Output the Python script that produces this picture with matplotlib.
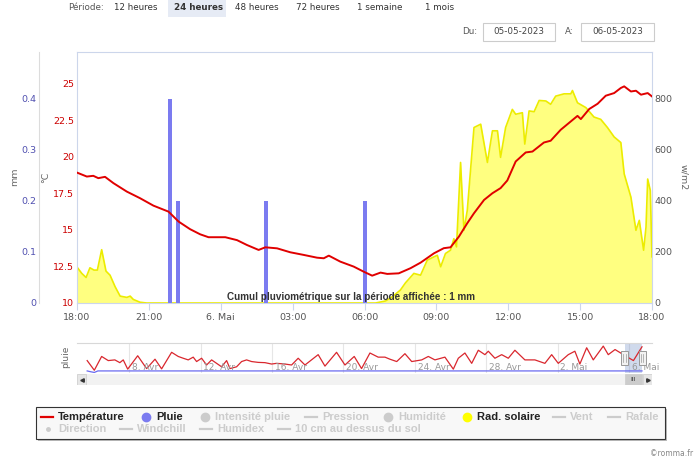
import matplotlib
matplotlib.use("Agg")
import matplotlib.pyplot as plt
from matplotlib.patches import Rectangle
from matplotlib.transforms import blended_transform_factory

# main chart, hours after 05-05-2023 18:00
temp_hours = [0.0, 0.41, 0.68, 0.89, 1.17, 1.52, 2.08, 2.63, 3.19, 3.82, 4.24, 4.72, 5.14,
              5.49, 6.19, 6.68, 7.09, 7.58, 7.86, 8.35, 8.90, 9.46, 10.02, 10.30, 10.51,
              10.99, 11.55, 11.97, 12.32, 12.67, 12.95, 13.43, 13.92, 14.34, 14.90, 15.31,
              15.59, 15.94, 16.29, 16.57, 16.99, 17.34, 17.68, 17.96, 18.31, 18.73, 19.01,
              19.49, 19.77, 20.19, 20.61, 20.89, 21.03, 21.38, 21.73, 22.07, 22.42, 22.70,
              22.84, 23.12, 23.33, 23.54, 23.82, 24.0]
temp_vals = [18.92, 18.65, 18.7, 18.54, 18.63, 18.2, 17.62, 17.17, 16.66, 16.25, 15.57, 15.05, 14.7,
             14.5, 14.5, 14.3, 13.97, 13.63, 13.81, 13.74, 13.47, 13.29, 13.1, 13.06, 13.24,
             12.83, 12.49, 12.14, 11.87, 12.08, 11.99, 12.03, 12.38, 12.76, 13.4, 13.75,
             13.81, 14.54, 15.46, 16.14, 17.05, 17.51, 17.86, 18.38, 19.68, 20.3, 20.36,
             20.98, 21.1, 21.85, 22.42, 22.8, 22.58, 23.27, 23.63, 24.18, 24.36, 24.71,
             24.82, 24.47, 24.52, 24.25, 24.36, 24.13]

solar_hours = [0.0, 0.20, 0.38, 0.54, 0.71, 0.85, 1.03, 1.21, 1.38, 1.59, 1.80, 2.08, 2.22,
               2.35, 2.63, 2.91, 12.46, 12.88, 13.17, 13.50, 13.71, 14.06, 14.34, 14.62,
               14.90, 15.04, 15.18, 15.38, 15.59, 15.73, 15.84, 16.01, 16.15, 16.29, 16.57,
               16.85, 17.13, 17.34, 17.55, 17.68, 17.89, 18.17, 18.31, 18.59, 18.69, 18.87,
               19.08, 19.29, 19.57, 19.77, 19.98, 20.33, 20.61, 20.68, 20.89, 21.24, 21.58,
               21.86, 22.14, 22.42, 22.70, 22.84, 23.12, 23.33, 23.47, 23.65, 23.75, 23.82,
               23.93, 24.0]
solar_vals = [141, 116, 100, 138, 129, 129, 209, 125, 109, 64, 27, 22, 27,
              14, 3, 0, 0, 8, 25, 51, 79, 116, 109, 168,
              181, 187, 142, 194, 207, 252, 220, 551, 285, 363, 688,
              701, 551, 675, 675, 571, 688, 759, 740, 746, 623, 753,
              750, 794, 792, 779, 811, 820, 820, 833, 785, 766, 729,
              720, 688, 651, 629, 506, 415, 285, 324, 207, 298, 486,
              441, 181]

rain_hours = [3.87, 4.20, 7.89, 12.03]
rain_vals = [0.4, 0.2, 0.2, 0.2]

x_ticks = [0, 3, 6, 9, 12, 15, 18, 21, 24]
x_labels = ["18:00", "21:00", "6. Mai", "03:00", "06:00", "09:00", "12:00", "15:00", "18:00"]
temp_ticks = [10, 12.5, 15, 17.5, 20, 22.5, 25]
rain_ticks = [0, 0.1, 0.2, 0.3, 0.4]
solar_ticks = [0, 200, 400, 600, 800]

# navigator, days after 06-05-2023 00:00
nav_days = [-30.35, -29.95, -29.54, -29.17, -28.80, -28.52, -28.33, -28.08, -27.52, -27.02,
            -26.55, -26.18, -25.62, -25.25, -24.97, -24.69, -24.41, -24.22, -23.94, -23.66,
            -23.38, -23.10, -22.82, -22.54, -22.35, -21.98, -21.70, -21.42, -21.14, -20.77,
            -20.39, -20.02, -19.74, -19.27, -18.90, -18.53, -18.15, -17.41, -17.03, -16.38,
            -15.91, -15.39, -14.98, -14.51, -14.05, -13.67, -13.39, -13.01, -12.55, -12.17,
            -11.61, -11.24, -10.87, -10.31, -9.84, -9.56, -9.19, -8.81, -8.44, -8.07,
            -7.88, -7.51, -7.13, -6.76, -6.39, -5.83, -5.27, -4.71, -4.33, -3.96,
            -3.40, -3.03, -2.75, -2.37, -2.00, -1.72, -1.44, -1.16, -0.78, -0.25,
            0.25, 0.73]
nav_temp = [12.5, 5.5, 15.5, 12.5, 13.0, 11.0, 13.0, 6.3, 16.0, 6.7,
            13.5, 6.5, 18.5, 15.5, 14.2, 13.0, 15.0, 11.8, 14.2, 9.3,
            13.0, 10.5, 8.0, 12.5, 6.7, 8.0, 11.8, 13.0, 11.8, 11.2,
            11.0, 10.0, 10.5, 10.0, 9.3, 14.2, 9.3, 16.8, 8.5, 18.5,
            9.3, 15.5, 6.7, 18.0, 15.0, 15.0, 13.5, 11.8, 17.5, 11.8,
            13.0, 15.5, 13.0, 15.0, 6.3, 14.2, 18.0, 10.5, 20.0, 16.8,
            19.3, 14.2, 16.8, 14.2, 20.0, 13.0, 13.0, 10.5, 16.8, 10.5,
            16.8, 19.3, 10.0, 21.8, 13.0, 18.0, 23.0, 16.8, 20.5, 16.3,
            12.5, 22.5]
nav_rain_days = [-30.35, -30.15, -29.95, -29.75, 0.73]
nav_rain_vals = [5.0, 4.4, 3.9, 5.0, 5.0]
nav_tick_days = [-28, -24, -20, -16, -12, -8, -4, 0]
nav_tick_labels = ["8. Avr", "12. Avr", "16. Avr", "20. Avr", "24. Avr", "28. Avr", "2. Mai", "6. Mai"]
nav_selection = [-0.25, 0.75]

periods = ["12 heures", "24 heures", "48 heures", "72 heures", "1 semaine", "1 mois"]
date_from = "05-05-2023"
date_to = "06-05-2023"
cumul_text = "Cumul pluviométrique sur la période affichée : 1 mm"

legend_labels = ["Température", "Pluie", "Intensité pluie", "Pression", "Humidité",
                 "Rad. solaire", "Vent", "Rafale", "Direction", "Windchill", "Humidex",
                 "10 cm au dessus du sol"]
legend_active = [True, True, False, False, False, True, False, False, False, False, False, False]

# ---------------------------------------------------------------- layout
W, H = 700, 462
plt.rcParams['font.family'] = ['DejaVu Sans']
fig = plt.figure(figsize=(W / 100, H / 100), dpi=100)


def fx(px):
    return px / W


def fy(py):
    return 1 - py / H


RED = '#e00000'
BLUE = '#7b7bf0'
BORDER = '#ccd6eb'
TICK_FS = 6.8

# host axes: solar radiation (right axis)
ax = fig.add_axes([fx(77), fy(303), (652 - 77) / W, (303 - 52) / H])
ax.fill_between(solar_hours, solar_vals, color='#ffff80', lw=0, zorder=1)
ax.plot(solar_hours, solar_vals, color='#ecec00', lw=1.2, zorder=2)
ax.set_xlim(0, 24)
ax.set_ylim(0, 984)
ax.set_xticks(x_ticks, x_labels)
ax.tick_params(axis='x', length=5, color=BORDER, labelsize=TICK_FS, labelcolor='#555555', pad=2)
for sp in ax.spines.values():
    sp.set_color(BORDER)
    sp.set_linewidth(0.8)

# rain axis (left, offset)
ax_r = ax.twinx()
ax_r.bar(rain_hours, rain_vals, width=0.16, color=BLUE, zorder=3)
ax_r.set_ylim(0, 0.492)
ax_r.yaxis.tick_left()
ax_r.set_yticks(rain_ticks, ["0", "0.1", "0.2", "0.3", "0.4"])
ax_r.tick_params(axis='y', length=0, labelsize=TICK_FS, labelcolor='#5050b0', pad=2)
for name, sp in ax_r.spines.items():
    sp.set_visible(name == 'left')
ax_r.spines['left'].set_position(('outward', 38 * 0.72))
ax_r.spines['left'].set_color('#dcdcdc')

# temperature axis (left)
ax_t = ax.twinx()
ax_t.plot(temp_hours, temp_vals, color=RED, lw=1.4, zorder=4)
ax_t.set_ylim(10, 27.17)
ax_t.yaxis.tick_left()
ax_t.set_yticks(temp_ticks, ["10", "12.5", "15", "17.5", "20", "22.5", "25"])
ax_t.tick_params(axis='y', length=0, labelsize=TICK_FS, labelcolor='#cc0000', pad=2)
for sp in ax_t.spines.values():
    sp.set_visible(False)
ax_t.text(0.476, 0.024, cumul_text, transform=ax_t.transAxes, ha='center', va='center',
          fontsize=7.1, fontweight='bold', family='Liberation Sans', color='#333333')

# twinx moved the host ticks to the left, put them back on the right
ax.yaxis.tick_right()
ax.set_yticks(solar_ticks)
ax.tick_params(axis='y', length=0, labelsize=TICK_FS, labelcolor='#555555', pad=2)

fig.text(fx(15), fy(177), "mm", rotation=90, ha='center', va='center', fontsize=6.8, color='#666666')
fig.text(fx(46), fy(177), "°C", rotation=90, ha='center', va='center', fontsize=6.8, color='#666666')
fig.text(fx(684), fy(177), "w/m2", rotation=270, ha='center', va='center', fontsize=6.8, color='#666666')

# navigator
ax_n = fig.add_axes([fx(77), fy(373), (652 - 77) / W, 30 / H])
ax_n.set_xlim(-30.92, 1.29)
ax_n.set_ylim(3.5, 25.25)
ax_n.set_xticks([])
ax_n.set_yticks([])
for name, sp in ax_n.spines.items():
    sp.set_visible(name == 'top')
ax_n.spines['top'].set_color('#d8d8d8')
blend_n = blended_transform_factory(ax_n.transData, ax_n.transAxes)
for d, lab in zip(nav_tick_days, nav_tick_labels):
    ax_n.axvline(d, color='#e6e6e6', lw=0.8, zorder=0)
    ax_n.annotate(lab, (d, 0), xycoords=blend_n, xytext=(2, 1), textcoords='offset points',
                  ha='left', va='bottom', fontsize=6.5, color='#999999')
ax_n.axvspan(nav_selection[0], nav_selection[1], color=(102 / 255, 133 / 255, 194 / 255, 0.3), lw=0)
ax_n.plot(nav_rain_days, nav_rain_vals, color='#6a6af0', lw=0.9)
ax_n.plot(nav_days, nav_temp, color='#d9272e', lw=0.9)
hw = 7 / 17.85
for d in nav_selection:
    ax_n.add_patch(Rectangle((d - hw / 2, 0.27), hw, 0.46, transform=blend_n, fc='#f2f2f2',
                             ec='#999999', lw=0.7, zorder=5))
    for off in (-0.06, 0.06):
        ax_n.plot([d + off, d + off], [0.38, 0.62], transform=blend_n, color='#999999', lw=0.5, zorder=6)
fig.text(fx(66), fy(357), "pluie", rotation=90, ha='center', va='center', fontsize=6.5, color='#666666')

# scrollbar
ax_s = fig.add_axes([fx(77), fy(385), (652 - 77) / W, 11 / H])
ax_s.set_xlim(-30.92, 1.29)
ax_s.set_ylim(0, 1)
ax_s.axis('off')
ax_s.add_patch(Rectangle((0, 0), 1, 1, transform=ax_s.transAxes, fc='#f2f2f2', ec='#f2f2f2', lw=0.5))
ax_s.add_patch(Rectangle((nav_selection[0], 0), nav_selection[1] - nav_selection[0], 1,
                         fc='#cccccc', ec='#cccccc', lw=0.5))
bw = 9 / 575
ax_s.add_patch(Rectangle((0, 0), bw, 1, transform=ax_s.transAxes, fc='#e6e6e6', ec='#cccccc', lw=0.5))
ax_s.add_patch(Rectangle((1 - bw, 0), bw, 1, transform=ax_s.transAxes, fc='#e6e6e6', ec='#cccccc', lw=0.5))
ax_s.plot([bw / 2], [0.5], marker='<', ms=2.5, color='#333333', transform=ax_s.transAxes)
ax_s.plot([1 - bw / 2], [0.5], marker='>', ms=2.5, color='#333333', transform=ax_s.transAxes)
ax_s.text(sum(nav_selection) / 2, 0.5, "III", ha='center', va='center', fontsize=4.5, color='#333333')

# legend box
fig.add_artist(Rectangle((fx(38), fy(441)), 629 / W, 32 / H, transform=fig.transFigure,
                         fc='#bbbbbb', ec='none'))
fig.add_artist(Rectangle((fx(36), fy(439)), 629 / W, 32 / H, transform=fig.transFigure,
                         fc='#f8f8f8', ec='#333333', lw=0.8))
legend_kind = ['line', 'circle', 'circle', 'line', 'circle', 'circle', 'line', 'line',
               'dot', 'line', 'line', 'line']
legend_color = [RED, BLUE, None, None, None, '#ffff00', None, None, None, None, None, None]
legend_x = [58, 156, 215, 322, 398, 477, 570, 625, 58, 137, 217, 295]
legend_y = [417] * 8 + [429] * 4
for lab, on, kind, col, lx, ly in zip(legend_labels, legend_active, legend_kind, legend_color,
                                      legend_x, legend_y):
    c = col if on else '#cccccc'
    tc = '#222222' if on else '#cccccc'
    if kind == 'line':
        fig.add_artist(plt.Line2D([fx(lx - 17), fx(lx - 5)], [fy(ly), fy(ly)], color=c, lw=1.6))
    elif kind == 'circle':
        fig.add_artist(plt.Line2D([fx(lx - 10)], [fy(ly)], marker='o', ms=6, color=c, mec=c))
    else:
        fig.add_artist(plt.Line2D([fx(lx - 10)], [fy(ly)], marker='o', ms=2.5, color=c, mec=c))
    fig.text(fx(lx), fy(ly), lab, ha='left', va='center', fontsize=8, fontweight='bold',
             family='Liberation Sans', color=tc)

# period selector and dates
fig.add_artist(Rectangle((fx(168), fy(17)), 58 / W, 17 / H, transform=fig.transFigure,
                         fc='#e6ebf5', ec='none'))
fig.text(fx(68), fy(8), "Période:", ha='left', va='center', fontsize=6.3, color='#555555')
for lab, cx in zip(periods, [135.5, 199, 257, 318, 379.5, 439.5]):
    fig.text(fx(cx), fy(8), lab, ha='center', va='center', fontsize=6.3, color='#333333',
             fontweight='bold' if lab == "24 heures" else 'normal')
fig.text(fx(470), fy(32), "Du:", ha='center', va='center', fontsize=6.3, color='#555555')
fig.text(fx(569), fy(32), "A:", ha='center', va='center', fontsize=6.3, color='#555555')
for lab, x0, x1 in [(date_from, 483, 555), (date_to, 581, 654)]:
    fig.add_artist(Rectangle((fx(x0), fy(41)), (x1 - x0) / W, 18 / H, transform=fig.transFigure,
                             fc='white', ec='#cccccc', lw=0.8))
    fig.text(fx((x0 + x1) / 2), fy(32), lab, ha='center', va='center', fontsize=6.3, color='#444444')

fig.text(fx(693), fy(454), "©romma.fr", ha='right', va='center', fontsize=5.5, color='#888888')

fig.savefig("out.png", dpi=100)
